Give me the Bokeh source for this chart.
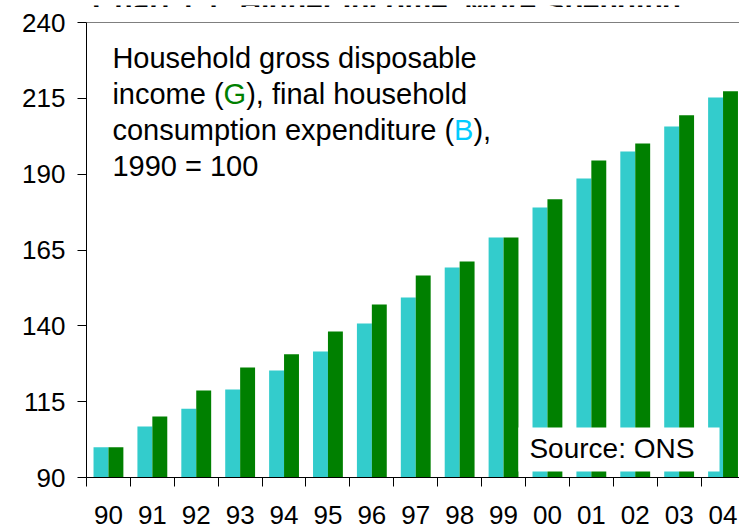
from bokeh.plotting import figure
from bokeh.layouts import column
from bokeh.models import Range1d, FixedTicker, Span, BoxAnnotation, Label, ColumnDataSource
from bokeh.transform import dodge
from bokeh.embed import file_html
from bokeh.resources import INLINE

# ---- data ----
years = ["90", "91", "92", "93", "94", "95", "96", "97", "98", "99", "00", "01", "02", "03", "04"]
consumption = [100.0, 106.8, 112.7, 119.0, 125.3, 131.5, 140.8, 149.3, 159.2, 169.1, 179.0, 188.6, 197.5, 205.7, 215.3]
income = [100.0, 110.1, 118.7, 126.3, 130.6, 138.1, 147.0, 156.6, 161.2, 169.1, 181.7, 194.5, 200.1, 209.4, 217.3]
y_ticks = [90, 115, 140, 165, 190, 215, 240]

title_text = "Chart 1.1: Higher Income, More Spending"
note_lines = [
    [("Household gross disposable", "#000000")],
    [("income (", "#000000"), ("G", "#008000"), ("), final household", "#000000")],
    [("consumption expenditure (", "#000000"), ("B", "#00CCFF"), ("),", "#000000")],
    [("1990 = 100", "#000000")],
]
source_text = "Source: ONS"

CYAN = "#33CCCC"
GREEN = "#008000"
FONT = "Liberation Sans"

# Arial / Liberation Sans advance widths (per 1000 em)
ARIAL = {' ': 278, '(': 333, ')': 333, ',': 278, 'a': 556, 'b': 556, 'c': 500, 'd': 556,
         'e': 556, 'f': 278, 'g': 556, 'h': 556, 'i': 222, 'l': 222, 'm': 833, 'n': 556,
         'o': 556, 'p': 556, 'r': 333, 's': 500, 't': 278, 'u': 556, 'x': 500,
         'G': 778, 'B': 667, 'H': 722}


def text_width(s, size):
    return sum(ARIAL.get(c, 556) for c in s) * size / 1000.0


W = 739
STRIP_H = 7
MAIN_H = 529 - STRIP_H

# ---- thin strip showing the bottom of the (cropped) title ----
pt = figure(width=W, height=STRIP_H, output_backend="svg", toolbar_location=None,
            x_range=Range1d(0, W), y_range=Range1d(0, STRIP_H),
            min_border=0, min_border_left=0, min_border_right=0, min_border_top=0, min_border_bottom=0,
            background_fill_color="white", border_fill_color="white")
pt.axis.visible = False
pt.grid.visible = False
pt.outline_line_color = None
pt.add_layout(Label(x=7, y=STRIP_H + 1.5, text=title_text, text_font=FONT, text_font_size="30px",
                    text_font_style="bold", text_color="black", text_baseline="alphabetic"))

# ---- main chart ----
idx = list(range(len(years)))
src = ColumnDataSource(dict(idx=idx, cons=consumption, inc=income))

p = figure(width=W, height=MAIN_H, output_backend="svg", toolbar_location=None,
           x_range=Range1d(-0.5, 14.375), y_range=Range1d(90, 240),
           min_border_left=86, min_border_right=0, min_border_top=22 - STRIP_H, min_border_bottom=52,
           background_fill_color="white", border_fill_color="white")
p.outline_line_color = None
p.xgrid.visible = False
p.ygrid.visible = False

bar_w = 0.34
p.vbar(x=dodge("idx", -bar_w / 2, range=p.x_range), top="cons", bottom=90, width=bar_w,
       source=src, fill_color=CYAN, line_color=None)
p.vbar(x=dodge("idx", bar_w / 2, range=p.x_range), top="inc", bottom=90, width=bar_w,
       source=src, fill_color=GREEN, line_color=None)

# x axis: labels at centres, ticks at category boundaries
xa = p.xaxis[0]
xa.ticker = FixedTicker(ticks=idx, minor_ticks=[i - 0.5 for i in idx])
xa.major_label_overrides = {i: y for i, y in zip(idx, years)}
xa.major_tick_line_color = None
xa.major_tick_out = 9
xa.major_tick_in = 0
xa.minor_tick_line_color = "black"
xa.minor_tick_out = 9
xa.minor_tick_in = 0
xa.axis_line_color = "black"
xa.major_label_text_font = FONT
xa.major_label_text_font_size = "26px"
xa.major_label_text_color = "black"
xa.major_label_standoff = 19

ya = p.yaxis[0]
ya.ticker = FixedTicker(ticks=y_ticks)
ya.major_tick_out = 9
ya.major_tick_in = 0
ya.major_tick_line_color = "black"
ya.minor_tick_line_color = None
ya.axis_line_color = "black"
ya.major_label_text_font = FONT
ya.major_label_text_font_size = "26px"
ya.major_label_text_color = "black"
ya.major_label_standoff = 12

# top border line
p.add_layout(Span(location=240, dimension="width", line_color="black", line_width=1))

# annotation text with coloured letters
note_size = 29
note_y = [228.4, 216.3, 204.4, 192.6]
for segs, yy in zip(note_lines, note_y):
    off = 0.0
    for txt, col in segs:
        p.add_layout(Label(x=0.09, y=yy, x_offset=off, text=txt, text_font=FONT,
                           text_font_size=f"{note_size}px", text_color=col,
                           text_baseline="alphabetic"))
        off += text_width(txt, note_size)

# source box
p.add_layout(BoxAnnotation(left=9.34, right=13.92, bottom=92, top=106.5,
                           fill_color="white", fill_alpha=1.0, line_color=None))
p.add_layout(Label(x=9.59, y=99.6, text=source_text, text_font=FONT, text_font_size="28px",
                   text_color="black", text_baseline="alphabetic"))

layout = column(pt, p, spacing=0)
open("out.html", "w").write(file_html(layout, INLINE))
